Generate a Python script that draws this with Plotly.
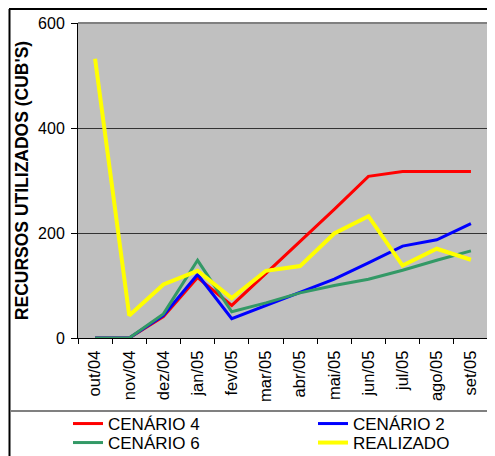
import plotly.graph_objects as go

months = ["out/04", "nov/04", "dez/04", "jan/05", "fev/05", "mar/05",
          "abr/05", "mai/05", "jun/05", "jul/05", "ago/05", "set/05"]
cenario4 = [0, 0, 41, 115, 62, 123, 183, 245, 308, 317, 317, 317]
cenario2 = [0, 0, 43, 121, 37, 62, 86, 112, 143, 175, 187, 218]
cenario6 = [0, 0, 46, 148, 50, 67, 86, 100, 112, 129, 148, 166]
realizado = [532, 43, 102, 128, 76, 128, 137, 199, 232, 138, 170, 149]

series = [
    ("CENÁRIO 4", cenario4, "#FF0000", "legend"),
    ("CENÁRIO 2", cenario2, "#0000FF", "legend2"),
    ("CENÁRIO 6", cenario6, "#339966", "legend3"),
    ("REALIZADO", realizado, "#FFFF00", "legend4"),
]

fig = go.Figure()
for name, vals, color, lg in series:
    fig.add_trace(go.Scatter(
        x=months, y=vals, name=name, mode="lines", legend=lg,
        line=dict(color=color, width=4 if name == "REALIZADO" else 3),
    ))

# page has an 8px body margin: figure coords = page coords - 8
W, H = 487, 448
L, R, T, B = 70, 480, 15, 330

def px(x):
    return (x - L) / (R - L)

def py(y):
    return (B - y) / (B - T)

legend_common = dict(
    orientation="v",
    yanchor="top",
    xanchor="left",
    font=dict(size=17),
    bgcolor="rgba(0,0,0,0)",
    tracegroupgap=0,
    itemwidth=30,
)

fig.update_layout(
    width=W, height=H,
    margin=dict(l=L, r=W - R, t=T, b=H - B, autoexpand=False),
    paper_bgcolor="white",
    plot_bgcolor="#C0C0C0",
    font=dict(family="Liberation Sans, Arial, sans-serif", size=16, color="black"),
    showlegend=True,
    legend=dict(x=px(60), y=py(398), **legend_common),
    legend2=dict(x=px(305), y=py(398), **legend_common),
    legend3=dict(x=px(60), y=py(417), **legend_common),
    legend4=dict(x=px(305), y=py(417), **legend_common),
    xaxis=dict(
        type="category",
        tickangle=-90,
        ticks="outside", ticklen=5, tickcolor="black",
        tickson="boundaries",
        showline=True, linecolor="black", linewidth=1,
        showgrid=False,
        tickfont=dict(size=16.5),
        ticklabelstandoff=5,
        range=[-0.5, 11.5],
        automargin=False,
    ),
    yaxis=dict(
        range=[0, 600],
        tickvals=[0, 200, 400, 600],
        ticks="outside", ticklen=6, tickcolor="black",
        showline=True, linecolor="black", linewidth=1,
        showgrid=True, gridcolor="#333333", gridwidth=1,
        zeroline=False,
        tickfont=dict(size=16),
        ticklabelstandoff=3,
        automargin=False,
        title=dict(text="<b>RECURSOS UTILIZADOS (CUB'S)</b>", font=dict(size=17.5), standoff=4),
    ),
)

# plot-area border on top and right (gray)
fig.add_shape(type="line", xref="paper", yref="paper", x0=0, x1=1, y0=1, y1=1,
              line=dict(color="#808080", width=2))
fig.add_shape(type="line", xref="paper", yref="paper", x0=1, x1=1, y0=0, y1=1,
              line=dict(color="#808080", width=2))
# outer frame
fig.add_shape(type="line", xref="paper", yref="paper", x0=px(1), x1=px(W), y0=py(1), y1=py(1),
              line=dict(color="black", width=2))
fig.add_shape(type="line", xref="paper", yref="paper", x0=px(1.5), x1=px(1.5), y0=py(1), y1=py(H),
              line=dict(color="black", width=2))
# legend box top line
fig.add_shape(type="line", xref="paper", yref="paper", x0=px(2), x1=px(W), y0=py(403), y1=py(403),
              line=dict(color="#808080", width=2))

fig.write_html("out.html")
